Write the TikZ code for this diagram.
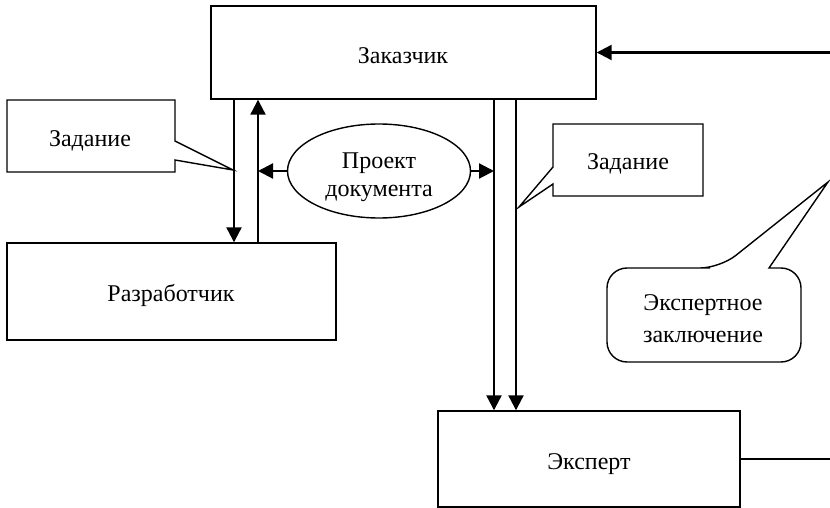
\documentclass[tikz,border=0pt]{standalone}
\usepackage{fontspec}
\setmainfont{Liberation Serif}
\usetikzlibrary{shapes.geometric,arrows.meta}
\begin{document}
\begin{tikzpicture}[x=1pt,y=-1pt,
  box/.style={draw,line width=1.4pt,inner sep=0pt},
  lbl/.style={font=\fontsize{24}{28}\selectfont, align=center, inner sep=0pt},
  arr/.style={line width=2.2pt,-{Triangle[length=15pt,width=15pt]}},
  co/.style={draw,line width=1.4pt,line join=miter}]
\useasboundingbox (0,0) rectangle (830,508);
% boxes
\node[box,minimum width=385,minimum height=93] (zak) at (403.5,52.5) {};
\node[lbl] (zakt) at (403,56) {Заказчик};
\node[box,minimum width=329,minimum height=97] (razr) at (171.5,291.5) {};
\node[lbl] (razrt) at (171,295) {Разработчик};
\node[box,minimum width=302,minimum height=96] (eksp) at (589,459) {};
\node[lbl] (ekspt) at (589,464) {Эксперт};
\node[ellipse,draw,line width=1.4pt,minimum width=183,minimum height=94,inner sep=0pt] (proj) at (379,171) {};
\node[lbl] (projt) at (379,177) {Проект\\документа};
% helper coordinates
\coordinate (xa) at (234,0);
\coordinate (xb) at (258,0);
\coordinate (xc) at (494,0);
\coordinate (xd) at (516,0);
\coordinate (xr) at (832,0);
% vertical arrows
\draw[arr] (zak.south -| xa) -- (razr.north -| xa);
\draw[arr] (razr.north -| xb) -- (zak.south -| xb);
\draw[arr] (zak.south -| xc) -- (eksp.north -| xc);
\draw[arr] (zak.south -| xd) -- (eksp.north -| xd);
% ellipse arrows
\draw[arr] (proj.west) -- (proj.west -| xb);
\draw[arr] (proj.east) -- (proj.east -| xc);
% return loop
\draw[arr] (eksp.east) -- (eksp.east -| xr) -- (zak.east -| xr) -- (zak.east);
% callouts
\draw[co] (7,100) -- (175,100) -- (175,141) -- (233,170) -- (175,160) -- (175,172) -- (7,172) -- cycle;
\node[lbl] (zad1) at (90,141) {Задание};
\draw[co] (553,124) -- (703,124) -- (703,196) -- (553,196) -- (553,184) -- (519,207) -- (553,167) -- cycle;
\node[lbl] (zad2) at (628,164) {Задание};
\draw[co,rounded corners=20] (690,268) -- (720,268) [sharp corners] -- (828,182) -- (769,268) [rounded corners=20] -- (801,268) -- (801,362) -- (607,362) -- (607,268) -- cycle;
\node[lbl,font=\fontsize{24}{32}\selectfont] (zakl) at (703,319) {Экспертное\\заключение};
\end{tikzpicture}
\end{document}
